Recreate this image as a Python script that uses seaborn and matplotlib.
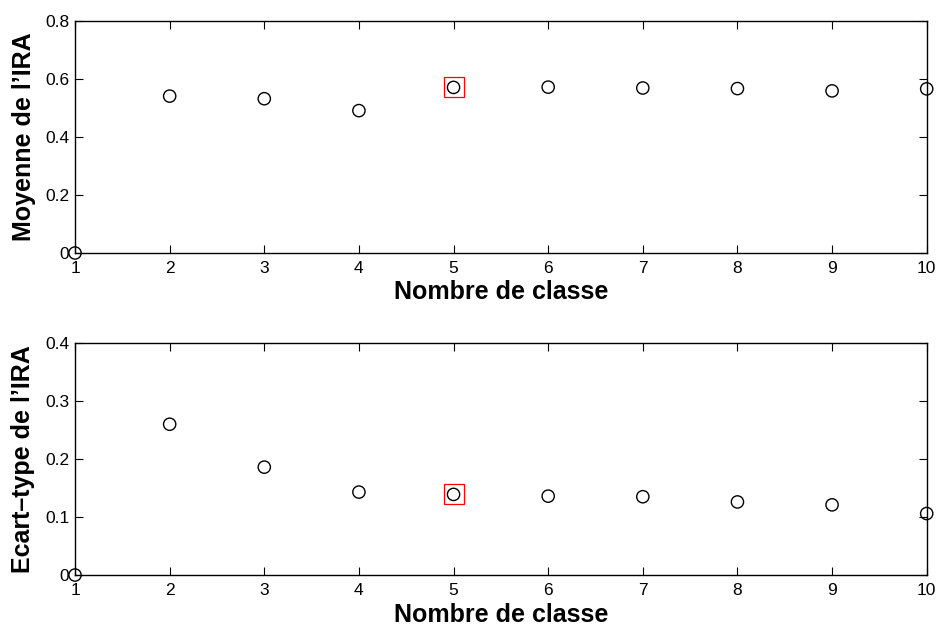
import matplotlib
matplotlib.use("Agg")
import matplotlib.pyplot as plt
import seaborn as sns
import pandas as pd

# Valeurs
nb_classes = [1, 2, 3, 4, 5, 6, 7, 8, 9, 10]
moyenne_ira = [0.0, 0.541, 0.532, 0.491, 0.571, 0.572, 0.569, 0.567, 0.559, 0.566]
ecart_type_ira = [0.0, 0.260, 0.186, 0.143, 0.139, 0.136, 0.135, 0.126, 0.121, 0.106]
best_k = 5

x_ticks = nb_classes
y_ticks_top = [0, 0.2, 0.4, 0.6, 0.8]
y_labels_top = ["0", "0.2", "0.4", "0.6", "0.8"]
y_ticks_bot = [0, 0.1, 0.2, 0.3, 0.4]
y_labels_bot = ["0", "0.1", "0.2", "0.3", "0.4"]

sns.set_style("white")
plt.rcParams['font.family'] = ['Liberation Sans', 'DejaVu Sans']
plt.rcParams['text.color'] = 'black'
plt.rcParams['axes.labelcolor'] = 'black'

df = pd.DataFrame({"k": nb_classes, "moy": moyenne_ira, "std": ecart_type_ira})

fig = plt.figure(figsize=(9.39, 6.27), dpi=100)
ax1 = fig.add_axes([0.0799, 0.5965, 0.907, 0.370])
ax2 = fig.add_axes([0.0799, 0.0829, 0.907, 0.370])

panels = [
    (ax1, "moy", "Moyenne de l\u2019IRA", y_ticks_top, y_labels_top),
    (ax2, "std", "Ecart\u2013type de l\u2019IRA", y_ticks_bot, y_labels_bot),
]

for ax, col, ylabel, yt, yl in panels:
    sns.scatterplot(data=df, x="k", y=col, ax=ax, marker="o", s=78,
                    facecolors="none", edgecolor="black", linewidth=1.0,
                    clip_on=False, zorder=3)
    # carré rouge autour du nombre de classes retenu
    yb = df.loc[df["k"] == best_k, col].values[0]
    ax.plot([best_k], [yb], marker="s", ms=15, mfc="none", mec="red",
            mew=0.9, linestyle="none", clip_on=False, zorder=4)
    ax.set_xlim(1, 10)
    ax.set_ylim(yt[0], yt[-1])
    ax.set_xticks(x_ticks)
    ax.set_xticklabels([str(v) for v in x_ticks], fontsize=12.5)
    ax.set_yticks(yt)
    ax.set_yticklabels(yl, fontsize=12.5)
    ax.tick_params(direction="in", length=6, width=0.8, top=True, right=True,
                   bottom=True, left=True, colors="black")
    ax.tick_params(axis="x", pad=6)
    ax.tick_params(axis="y", pad=4)
    ax.set_xlabel("Nombre de classe", fontsize=18, fontweight="bold", labelpad=3)
    ax.set_ylabel(ylabel, fontsize=18, fontweight="bold", labelpad=7)
    for sp in ax.spines.values():
        sp.set_visible(True)
        sp.set_color("black")
        sp.set_linewidth(1.0)

fig.savefig("out.png", dpi=100)
